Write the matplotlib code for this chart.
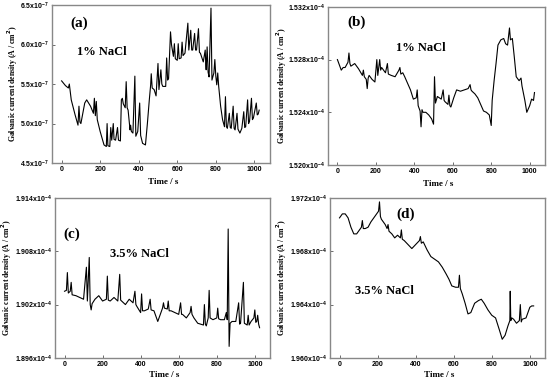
import matplotlib
matplotlib.use("Agg")
import matplotlib.pyplot as plt
from matplotlib.ticker import FuncFormatter

# (a) 1% NaCl, current density in units of 1e-7 A/cm2
t_a = [0, 20, 35, 40, 45, 50, 70, 85, 90, 95, 100, 120, 130, 150, 165, 170, 175, 180, 185,
       200, 220, 232, 236, 240, 250, 255, 260, 268, 272, 280, 290, 295, 305, 310, 315, 320,
       330, 335, 340, 345, 355, 358, 362, 370, 380, 385, 395, 405, 410, 420, 435, 445, 455,
       462, 465, 470, 480, 490, 500, 505, 515, 520, 525, 540, 545, 550, 555, 565, 570, 580,
       585, 590, 600, 605, 610, 620, 625, 630, 640, 655, 660, 670, 675, 680, 690, 695, 700,
       710, 715, 720, 735, 745, 748, 750, 755, 760, 765, 775, 780, 790, 795, 800, 805, 810,
       815, 825, 835, 845, 850, 855, 860, 870, 875, 880, 890, 895, 900, 910, 915, 925, 935,
       945, 950, 955, 965, 970, 975, 985, 990, 995, 1010, 1015, 1020, 1025]
i_a = [5.54, 5.48, 5.45, 5.50, 5.40, 5.30, 5.11, 4.98, 5.22, 5.02, 5.00, 5.26, 5.30, 5.22,
       5.13, 5.32, 5.10, 5.28, 5.05, 4.90, 4.73, 4.71, 5.00, 4.72, 4.71, 4.95, 4.79, 5.00,
       4.80, 4.79, 4.95, 4.79, 4.78, 5.30, 5.32, 5.25, 5.20, 5.53, 5.20, 5.17, 4.92, 4.98,
       4.90, 4.88, 5.60, 4.84, 4.90, 5.26, 4.85, 4.75, 4.73, 5.00, 5.30, 5.49, 5.63, 5.45,
       5.43, 5.35, 5.76, 5.43, 5.68, 5.50, 5.47, 5.47, 5.83, 5.55, 5.57, 6.16, 6.00, 5.85,
       6.01, 5.82, 5.80, 6.01, 5.82, 5.83, 6.03, 5.86, 5.89, 6.27, 5.93, 6.18, 5.93, 5.93,
       6.14, 5.93, 5.93, 6.20, 5.90, 5.89, 5.78, 5.93, 5.75, 5.68, 5.97, 5.65, 5.59, 6.46,
       5.55, 5.64, 5.81, 5.60, 5.49, 5.64, 5.47, 5.22, 5.05, 4.96, 5.34, 4.96, 4.94, 5.13,
       4.95, 4.94, 5.22, 4.94, 4.92, 5.13, 4.93, 4.88, 4.94, 5.15, 4.95, 4.96, 5.30, 5.00,
       5.03, 5.32, 5.05, 5.07, 5.26, 5.11, 5.12, 5.17]

# (b) 1% NaCl, units of 1e-4 A/cm2
t_b = [0, 10, 20, 30, 40, 55, 60, 65, 70, 90, 110, 130, 135, 140, 150, 155, 160, 165, 180,
       195, 205, 210, 215, 220, 225, 230, 250, 260, 265, 280, 300, 320, 325, 330, 340, 350,
       365, 380, 395, 410, 415, 420, 430, 435, 440, 445, 460, 475, 490, 500, 505, 510, 520,
       540, 550, 555, 560, 575, 580, 585, 590, 605, 620, 640, 660, 680, 690, 695, 700, 715,
       730, 745, 760, 775, 790, 800, 805, 815, 825, 835, 850, 865, 875, 885, 895, 900, 910,
       920, 930, 945, 955, 960, 975, 985, 1000, 1010, 1020, 1025]
i_b = [1.5280, 1.5276, 1.5272, 1.5274, 1.5274, 1.5278, 1.5285, 1.5277, 1.5275, 1.5277,
       1.5273, 1.5268, 1.5272, 1.5267, 1.5265, 1.5258, 1.5266, 1.5268, 1.5265, 1.5263,
       1.5280, 1.5268, 1.5274, 1.5280, 1.5272, 1.5274, 1.5270, 1.5277, 1.5269, 1.5268,
       1.5267, 1.5272, 1.5274, 1.5269, 1.5270, 1.5267, 1.5262, 1.5257, 1.5250, 1.5251,
       1.5257, 1.5245, 1.5241, 1.5229, 1.5242, 1.5240, 1.5240, 1.5238, 1.5235, 1.5231,
       1.5267, 1.5247, 1.5252, 1.5250, 1.5257, 1.5249, 1.5248, 1.5246, 1.5253, 1.5245,
       1.5244, 1.5251, 1.5257, 1.5256, 1.5257, 1.5258, 1.5261, 1.5257, 1.5256, 1.5254,
       1.5251, 1.5246, 1.5241, 1.5240, 1.5238, 1.5230, 1.5249, 1.5264, 1.5277, 1.5291,
       1.5295, 1.5296, 1.5292, 1.5291, 1.5304, 1.5295, 1.5296, 1.5282, 1.5267, 1.5264,
       1.5266, 1.5260, 1.5249, 1.5240, 1.5245, 1.5250, 1.5249, 1.5255]

# (c) 3.5% NaCl, units of 1e-4 A/cm2
t_c = [0, 10, 15, 20, 30, 35, 40, 60, 80, 100, 115, 120, 130, 135, 140, 145, 160, 180, 200,
       220, 225, 230, 240, 260, 280, 290, 295, 300, 320, 340, 360, 370, 375, 380, 400, 405,
       410, 420, 440, 450, 455, 470, 490, 500, 515, 520, 525, 540, 545, 550, 560, 580, 600,
       610, 615, 620, 640, 660, 665, 670, 680, 700, 730, 735, 740, 745, 755, 760, 765, 780,
       800, 805, 810, 820, 840, 850, 855, 860, 865, 870, 880, 900, 915, 920, 925, 940, 945,
       960, 965, 970, 980, 995, 1000, 1005, 1010, 1015, 1020, 1025]
i_c = [1.9035, 1.9036, 1.9056, 1.9033, 1.9035, 1.9045, 1.9031, 1.9030, 1.9028, 1.9026,
       1.9062, 1.9024, 1.9073, 1.9020, 1.9014, 1.9021, 1.9026, 1.9030, 1.9024, 1.9026,
       1.9052, 1.9025, 1.9024, 1.9028, 1.9024, 1.9054, 1.9025, 1.9024, 1.9020, 1.9026,
       1.9022, 1.9035, 1.9020, 1.9018, 1.9011, 1.9032, 1.9013, 1.9013, 1.9015, 1.9026,
       1.9014, 1.9013, 1.9001, 1.9007, 1.9016, 1.9022, 1.9016, 1.9015, 1.9024, 1.9013,
       1.9013, 1.9011, 1.9009, 1.9022, 1.9009, 1.9009, 1.9005, 1.9011, 1.9018, 1.9009,
       1.9005, 1.8999, 1.8997, 1.9020, 1.8998, 1.8996, 1.9005, 1.9036, 1.9005, 1.9003,
       1.9005, 1.9016, 1.9004, 1.9003, 1.9003, 1.9011, 1.9003, 1.9105, 1.8973, 1.8999,
       1.9001, 1.9001, 1.9022, 1.8998, 1.8999, 1.9045, 1.8999, 1.8997, 1.9008, 1.8997,
       1.9001, 1.9005, 1.9014, 1.9000, 1.9001, 1.9008, 1.8998, 1.8994]

# (d) 3.5% NaCl, units of 1e-4 A/cm2
t_d = [0, 15, 30, 45, 60, 75, 90, 105, 115, 120, 125, 135, 150, 165, 180, 195, 205, 210,
       215, 220, 240, 250, 255, 260, 275, 290, 305, 320, 325, 330, 340, 360, 380, 400, 420,
       425, 430, 440, 460, 480, 500, 520, 540, 560, 575, 590, 610, 625, 630, 635, 645, 660,
       675, 690, 710, 730, 745, 760, 780, 800, 820, 840, 855, 870, 885, 895, 897, 900, 905,
       915, 930, 945, 950, 955, 960, 980, 1000, 1010, 1020]
i_d = [1.9705, 1.9708, 1.9708, 1.9705, 1.9698, 1.9693, 1.9693, 1.9696, 1.9698, 1.9703,
       1.9697, 1.9697, 1.9698, 1.9702, 1.9705, 1.9708, 1.9710, 1.9717, 1.9706, 1.9704,
       1.9700, 1.9697, 1.9700, 1.9695, 1.9693, 1.9690, 1.9692, 1.9690, 1.9696, 1.9689,
       1.9688, 1.9685, 1.9682, 1.9685, 1.9688, 1.9691, 1.9686, 1.9687, 1.9681, 1.9676,
       1.9674, 1.9672, 1.9668, 1.9663, 1.9659, 1.9654, 1.9653, 1.9653, 1.9662, 1.9652,
       1.9648, 1.9641, 1.9633, 1.9634, 1.9641, 1.9643, 1.9644, 1.9641, 1.9636, 1.9632,
       1.9630, 1.9621, 1.9614, 1.9617, 1.9624, 1.9628, 1.9650, 1.9628, 1.9630, 1.9629,
       1.9626, 1.9628, 1.9640, 1.9627, 1.9629, 1.9630, 1.9638, 1.9639, 1.9639]

yticks_a = [4.5, 5.0, 5.5, 6.0, 6.5]
yticks_b = [1.520, 1.524, 1.528, 1.532]
yticks_c = [1.896, 1.902, 1.908, 1.914]
yticks_d = [1.960, 1.964, 1.968, 1.972]
xticks = [0, 200, 400, 600, 800, 1000]

serif = "Liberation Serif"
sans = "Liberation Sans"

fig = plt.figure(figsize=(5.5, 3.82), dpi=100)

panels = [
    ([0.0945, 0.573, 0.396, 0.414], t_a, i_a, yticks_a, 1, -7, "(a)", (0.083, 0.886),
     "1% NaCl", (0.115, 0.70), -0.145, -0.095),
    ([0.596, 0.568, 0.395, 0.414], t_b, i_b, yticks_b, 3, -4, "(b)", (0.088, 0.90),
     "1% NaCl", (0.313, 0.74), -0.18, -0.095),
    ([0.100, 0.063, 0.391, 0.419], t_c, i_c, yticks_c, 3, -4, "(c)", (0.04, 0.775),
     "3.5% NaCl", (0.256, 0.65), -0.19, -0.08),
    ([0.600, 0.063, 0.391, 0.419], t_d, i_d, yticks_d, 3, -4, "(d)", (0.307, 0.90),
     "3.5% NaCl", (0.116, 0.42), -0.19, -0.08),
]

for rect, t, v, yt, dec, ex, tag, tagpos, label, labpos, ylx, xly in panels:
    ax = fig.add_axes(rect)
    ax.plot(t, v, color="black", lw=0.8)
    ax.set_xlim(-50, 1080)
    ax.set_ylim(yt[0], yt[-1])
    ax.set_xticks(xticks)
    ax.set_yticks(yt)
    fmt = lambda val, pos, d=dec, e=ex: f"{val:.{d}f}x10$^{{\\mathregular{{{e}}}}}$"
    ax.yaxis.set_major_formatter(FuncFormatter(fmt))
    ax.tick_params(direction="in", length=2.5, width=0.6, color="#555555",
                   labelsize=5, pad=2)
    for lab in ax.get_xticklabels() + ax.get_yticklabels():
        lab.set_fontfamily(sans)
        lab.set_fontweight("bold")
    for sp in ax.spines.values():
        sp.set_color("#888888")
        sp.set_linewidth(1.0)
    ax.set_xlabel("Time / s", fontfamily=serif, fontweight="bold", fontsize=6.5)
    ax.xaxis.set_label_coords(0.51, xly)
    ax.set_ylabel("Galvanic current density (A / cm$^\\mathbf{2}$)", fontfamily=serif,
                  fontweight="bold", fontsize=5.6)
    ax.yaxis.set_label_coords(ylx, 0.5)
    ax.text(tagpos[0], tagpos[1], tag, transform=ax.transAxes, fontfamily=serif,
            fontweight="bold", fontsize=11, va="center")
    ax.text(labpos[0], labpos[1], label, transform=ax.transAxes, fontfamily=serif,
            fontweight="bold", fontsize=9, va="center")

plt.savefig("out.png", dpi=100)
